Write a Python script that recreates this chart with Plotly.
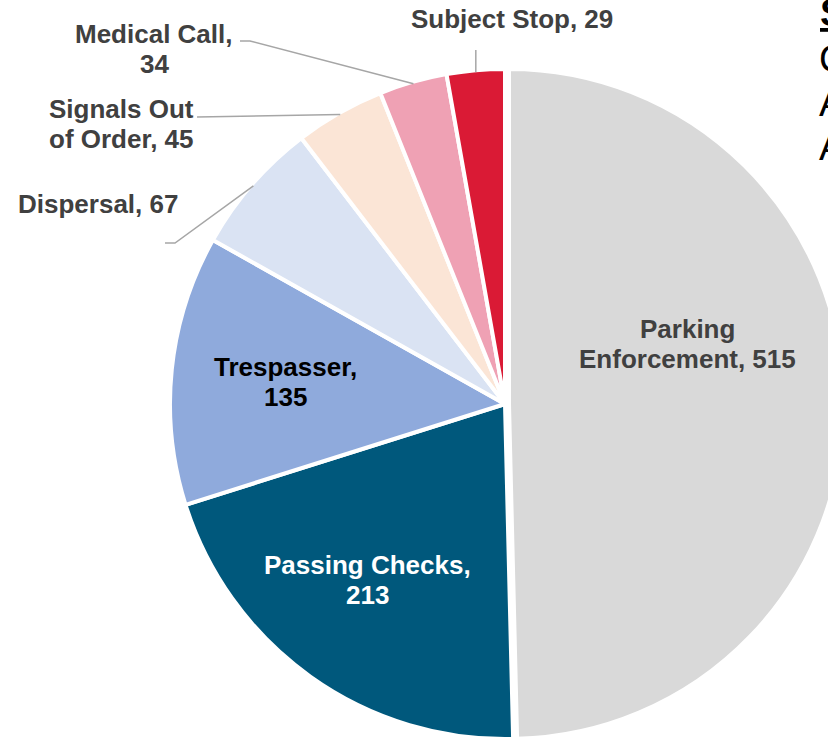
import math
import plotly.graph_objects as go

# ---- data -------------------------------------------------------------
categories = ["Parking\nEnforcement", "Passing Checks", "Trespasser",
              "Dispersal", "Signals Out\nof Order", "Medical Call", "Subject Stop"]
counts = [515, 213, 135, 67, 45, 34, 29]
value_on_new_line = [False, True, True, False, False, True, False]

slice_colors = ["#D9D9D9", "#00587C", "#8FAADC", "#DAE3F3",
                "#FBE5D6", "#EFA1B4", "#DA1A35"]
label_colors = ["#404040", "#FFFFFF", "#000000", "#404040",
                "#404040", "#404040", "#404040"]

side_letters = ["C", "A", "A"]

# ---- page / pie geometry (pixels) -------------------------------------
W, H = 860, 760
CX, CY = 505, 404          # pie centre
R_VIS = 333                # visible radius
BORDER = 4                 # white slice separator
R = R_VIS + BORDER / 2
PULL = 4 / R               # small pull on the largest slice

FONT = "Liberation Sans, Arial, sans-serif"
LABEL_SIZE = 26
LINE_GAP = 30


def px(x):
    return x / W


def py(y):
    return 1 - y / H


half = R * (1 + PULL)
fig = go.Figure(go.Pie(
    labels=[c.replace("\n", " ") for c in categories],
    values=counts,
    sort=False,
    direction="clockwise",
    rotation=0,
    pull=[PULL] + [0] * (len(counts) - 1),
    marker=dict(colors=slice_colors, line=dict(color="#FFFFFF", width=BORDER)),
    textinfo="none",
    hovertemplate="%{label}: %{value}<extra></extra>",
    showlegend=False,
    domain=dict(x=[px(CX - half), px(CX + half)],
                y=[py(CY + half), py(CY - half)]),
))

# label placement: centre of the first text line and x centre (pixels)
label_pos = {
    0: (687, 329),
    1: (367, 565),
    2: (285, 367),
    3: (98, 204),
    4: (122, 109),
    5: (154, 34),
    6: (512, 19),
}

annotations = []
for i, (name, val) in enumerate(zip(categories, counts)):
    text = name + ("," + "\n" if value_on_new_line[i] else ", ") + str(val)
    lines = text.split("\n")
    x0, y0 = label_pos[i]
    for k, line in enumerate(lines):
        annotations.append(dict(
            x=px(x0), y=py(y0 + k * LINE_GAP), xref="paper", yref="paper",
            text=line, showarrow=False, xanchor="center", yanchor="middle",
            font=dict(family=FONT, size=LABEL_SIZE, color=label_colors[i],
                      weight="bold"),
        ))

# leader lines from the outside labels to the slice edge
total = sum(counts)
cum = [sum(counts[:i]) for i in range(len(counts))]


def edge_point(i):
    a = 2 * math.pi * (cum[i] + counts[i] / 2) / total
    return CX + R_VIS * math.sin(a), CY - R_VIS * math.cos(a)


leader_starts = {
    3: [(165, 243), (175, 243)],
    4: [(197, 117)],
    5: [(240, 41), (250, 41)],
}
shapes = []
for i, pts in leader_starts.items():
    ex, ey = edge_point(i)
    pts = pts + [(ex, ey)]
    path = "M " + " L ".join(f"{px(x):.5f},{py(y):.5f}" for x, y in pts)
    shapes.append(dict(type="path", path=path, xref="paper", yref="paper",
                       line=dict(color="#A6A6A6", width=1.5)))
ex, ey = edge_point(6)
shapes.append(dict(type="line", xref="paper", yref="paper",
                   x0=px(ex), y0=py(50), x1=px(ex), y1=py(ey),
                   line=dict(color="#A6A6A6", width=1.5)))

# side panel text
annotations.append(dict(
    x=px(818), y=py(13), xref="paper", yref="paper", text="<u>S</u>",
    showarrow=False, xanchor="left", yanchor="middle",
    font=dict(family=FONT, size=38, color="#000000", weight="bold"),
))
for k, letter in enumerate(side_letters):
    annotations.append(dict(
        x=px(817), y=py(59 + k * 44), xref="paper", yref="paper", text=letter,
        showarrow=False, xanchor="left", yanchor="middle",
        font=dict(family=FONT, size=38, color="#000000"),
    ))

fig.update_layout(
    width=W, height=H, autosize=False,
    margin=dict(l=0, r=0, t=0, b=0, pad=0),
    paper_bgcolor="#FFFFFF", plot_bgcolor="#FFFFFF",
    annotations=annotations, shapes=shapes,
)

fig.write_html(
    "out.html",
    config={"displayModeBar": False},
    post_script="document.documentElement.style.overflow='hidden';"
                "document.body.style.overflow='hidden';"
                "document.body.style.margin='0';",
)
